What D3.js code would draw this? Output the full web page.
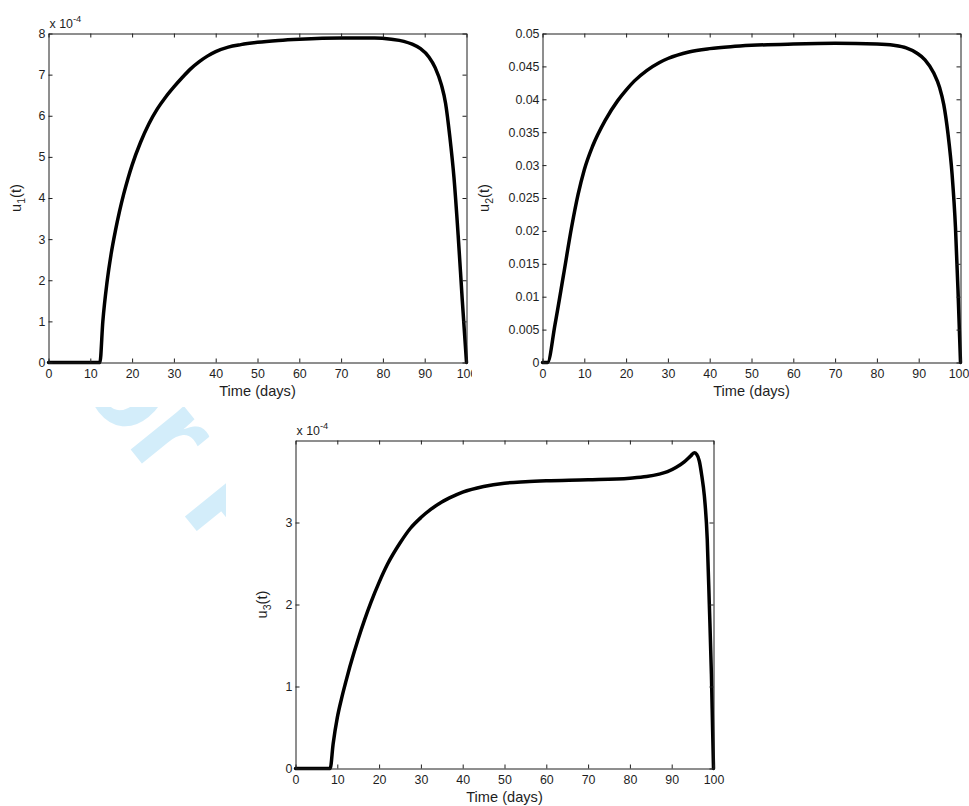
<!DOCTYPE html>
<html>
<head>
<meta charset="utf-8">
<script src="https://cdn.jsdelivr.net/npm/d3@7/dist/d3.min.js"></script>
<style>
  html, body { margin: 0; padding: 0; background: #fff; }
  svg { display: block; font-family: "Liberation Sans", Arial, Helvetica, sans-serif; }
</style>
</head>
<body>
<svg id="chart" width="969" height="806"></svg>
<script>
// ---------- data ----------
const xTicks = [0, 10, 20, 30, 40, 50, 60, 70, 80, 90, 100];

// u1(t) in units of 1e-4
const time1 = [0, 12.3, 13, 14, 15, 16, 17, 18, 19, 20, 22, 24, 26, 28, 30, 32, 34, 36, 38, 40, 43, 46, 50, 55, 60, 70, 78, 82, 85, 87, 89, 91, 92.5, 94, 95, 96, 97, 98, 99, 100];
const u1 = [0, 0, 1.0, 1.95, 2.65, 3.2, 3.68, 4.1, 4.47, 4.8, 5.35, 5.8, 6.16, 6.45, 6.7, 6.93, 7.14, 7.31, 7.45, 7.56, 7.67, 7.73, 7.785, 7.83, 7.86, 7.89, 7.89, 7.86, 7.81, 7.74, 7.63, 7.43, 7.17, 6.75, 6.3, 5.5, 4.5, 3.1, 1.5, 0];
const y1Ticks = [0, 1, 2, 3, 4, 5, 6, 7, 8];
const y1TickLabels = ["0", "1", "2", "3", "4", "5", "6", "7", "8"];

// u2(t)
const time2 = [0, 1.2, 3, 5, 7, 8.5, 10, 12, 15, 18, 20, 22, 25, 28, 30, 35, 40, 45, 50, 60, 70, 80, 84, 87, 89.6, 91.5, 93.6, 95, 96, 97, 98, 98.8, 99.4, 100];
const u2 = [0, 0, 0.0058, 0.0132, 0.0207, 0.0255, 0.0293, 0.0329, 0.0368, 0.0398, 0.0414, 0.0428, 0.0444, 0.0456, 0.0462, 0.0472, 0.0477, 0.048, 0.0482, 0.0484, 0.0485, 0.0484, 0.0482, 0.0478, 0.047, 0.046, 0.044, 0.0418, 0.0392, 0.0348, 0.0285, 0.0205, 0.011, 0];
const y2Ticks = [0, 0.005, 0.01, 0.015, 0.02, 0.025, 0.03, 0.035, 0.04, 0.045, 0.05];
const y2TickLabels = ["0", "0.005", "0.01", "0.015", "0.02", "0.025", "0.03", "0.035", "0.04", "0.045", "0.05"];

// u3(t) in units of 1e-4
const time3 = [0, 8.3, 9, 10, 11, 12, 13, 15, 16.5, 18, 20, 22, 25, 27.5, 30, 32.5, 35, 37.5, 40, 45, 50, 55, 60, 70, 80, 84, 87, 89, 91, 93, 94.5, 95.4, 96, 96.6, 97.2, 97.8, 98.5, 99, 99.5, 99.8, 100];
const u3 = [0, 0, 0.3, 0.62, 0.85, 1.05, 1.24, 1.58, 1.81, 2.02, 2.27, 2.49, 2.75, 2.93, 3.06, 3.165, 3.25, 3.315, 3.37, 3.44, 3.48, 3.497, 3.508, 3.52, 3.54, 3.56, 3.59, 3.62, 3.67, 3.74, 3.81, 3.85, 3.83, 3.75, 3.57, 3.33, 2.8, 2.0, 1.15, 0.45, 0];
const y3Ticks = [0, 1, 2, 3];
const y3TickLabels = ["0", "1", "2", "3"];

const xLabel = "Time (days)";

// ---------- layout ----------
const panels = [
  { left: 48.5, right: 466.5, top: 33.5, bottom: 362.5, t: time1, v: u1, yDomain: [0, 8],
    yTicks: y1Ticks, yLabels: y1TickLabels, sub: "1", exponent: true, yLabelX: 20.5, clipRight: 472 },
  { left: 542.5, right: 960.5, top: 33.5, bottom: 362.5, t: time2, v: u2, yDomain: [0, 0.05],
    yTicks: y2Ticks, yLabels: y2TickLabels, sub: "2", exponent: false, yLabelX: 488.5, clipRight: 969 },
  { left: 295.5, right: 713.5, top: 440.5, bottom: 768.5, t: time3, v: u3, yDomain: [0, 4.0],
    yTicks: y3Ticks, yLabels: y3TickLabels, sub: "3", exponent: true, yLabelX: 266.5, clipRight: 969 }
];

const svg = d3.select("#chart");
const ink = "#1e1e1e";
const tickFont = 12.4;
const labelFont = 14.6;

// ---------- watermark ----------
const defs = svg.append("defs");
defs.append("clipPath").attr("id", "wmclip")
  .append("rect").attr("x", 0).attr("y", 407).attr("width", 226).attr("height", 399);
svg.append("g").attr("clip-path", "url(#wmclip)")
  .append("text")
  .attr("transform", "translate(25,319) rotate(51)")
  .attr("font-size", 130)
  .attr("font-weight", "bold")
  .attr("fill", "#d3edfa")
  .text("For Peer");

// ---------- panels ----------
panels.forEach((p, i) => {
  defs.append("clipPath").attr("id", "pclip" + i)
    .append("rect").attr("x", 0).attr("y", 0).attr("width", p.clipRight).attr("height", 806);

  const g = svg.append("g").attr("clip-path", `url(#pclip${i})`);
  const x = d3.scaleLinear().domain([0, 100]).range([p.left, p.right]);
  const y = d3.scaleLinear().domain(p.yDomain).range([p.bottom, p.top]);

  // curve
  const pts = p.t.map((t, k) => [t, p.v[k]]);
  g.append("path")
    .datum(pts)
    .attr("fill", "none")
    .attr("stroke", "#000")
    .attr("stroke-width", 3.5)
    .attr("stroke-linejoin", "round")
    .attr("stroke-linecap", "round")
    .attr("d", d3.line().x(d => x(d[0])).y(d => y(d[1])).curve(d3.curveMonotoneX));

  const styleAxis = sel => {
    sel.selectAll(".domain").attr("stroke", ink).attr("stroke-width", 1);
    sel.selectAll(".tick line").attr("stroke", ink).attr("stroke-width", 1);
    sel.selectAll(".tick text").attr("fill", ink)
      .attr("font-size", tickFont)
      .attr("font-family", '"Liberation Sans", Arial, Helvetica, sans-serif');
  };

  // bottom
  const bx = g.append("g").attr("transform", `translate(0,${p.bottom})`)
    .call(d3.axisBottom(x).tickValues(xTicks).tickFormat(d3.format("d"))
      .tickSizeInner(-4).tickSizeOuter(0).tickPadding(6.8))
    .call(styleAxis);
  if (i === 1) {
    bx.selectAll(".tick text").filter(d => d === 100).attr("dx", -2);
  }
  // top
  g.append("g").attr("transform", `translate(0,${p.top})`)
    .call(d3.axisTop(x).tickValues(xTicks).tickFormat("")
      .tickSizeInner(-4).tickSizeOuter(0))
    .call(styleAxis);
  // left
  g.append("g").attr("transform", `translate(${p.left},0)`)
    .call(d3.axisLeft(y).tickValues(p.yTicks).tickFormat((d, k) => p.yLabels[k])
      .tickSizeInner(-4).tickSizeOuter(0).tickPadding(3))
    .call(styleAxis);
  // right
  g.append("g").attr("transform", `translate(${p.right},0)`)
    .call(d3.axisRight(y).tickValues(p.yTicks).tickFormat("")
      .tickSizeInner(-4).tickSizeOuter(0))
    .call(styleAxis);

  // x label
  g.append("text")
    .attr("x", (p.left + p.right) / 2)
    .attr("y", p.bottom + 33)
    .attr("text-anchor", "middle")
    .attr("font-size", labelFont)
    .attr("fill", ink)
    .text(xLabel);

  // y label  u_n(t)
  const yl = g.append("text")
    .attr("transform", `translate(${p.yLabelX},${(p.top + p.bottom) / 2}) rotate(-90)`)
    .attr("text-anchor", "middle")
    .attr("font-size", labelFont)
    .attr("fill", ink);
  yl.append("tspan").text("u");
  yl.append("tspan").attr("dy", 4).attr("font-size", 10.5).text(p.sub);
  yl.append("tspan").attr("dy", -4).text("(t)");

  // exponent
  if (p.exponent) {
    const ex = g.append("text")
      .attr("x", p.left + 1)
      .attr("y", p.top - 6)
      .attr("font-size", tickFont)
      .attr("fill", ink);
    ex.append("tspan").text("x 10");
    ex.append("tspan").attr("dy", -6).attr("font-size", 9.4).text("-4");
  }
});
</script>
</body>
</html>
